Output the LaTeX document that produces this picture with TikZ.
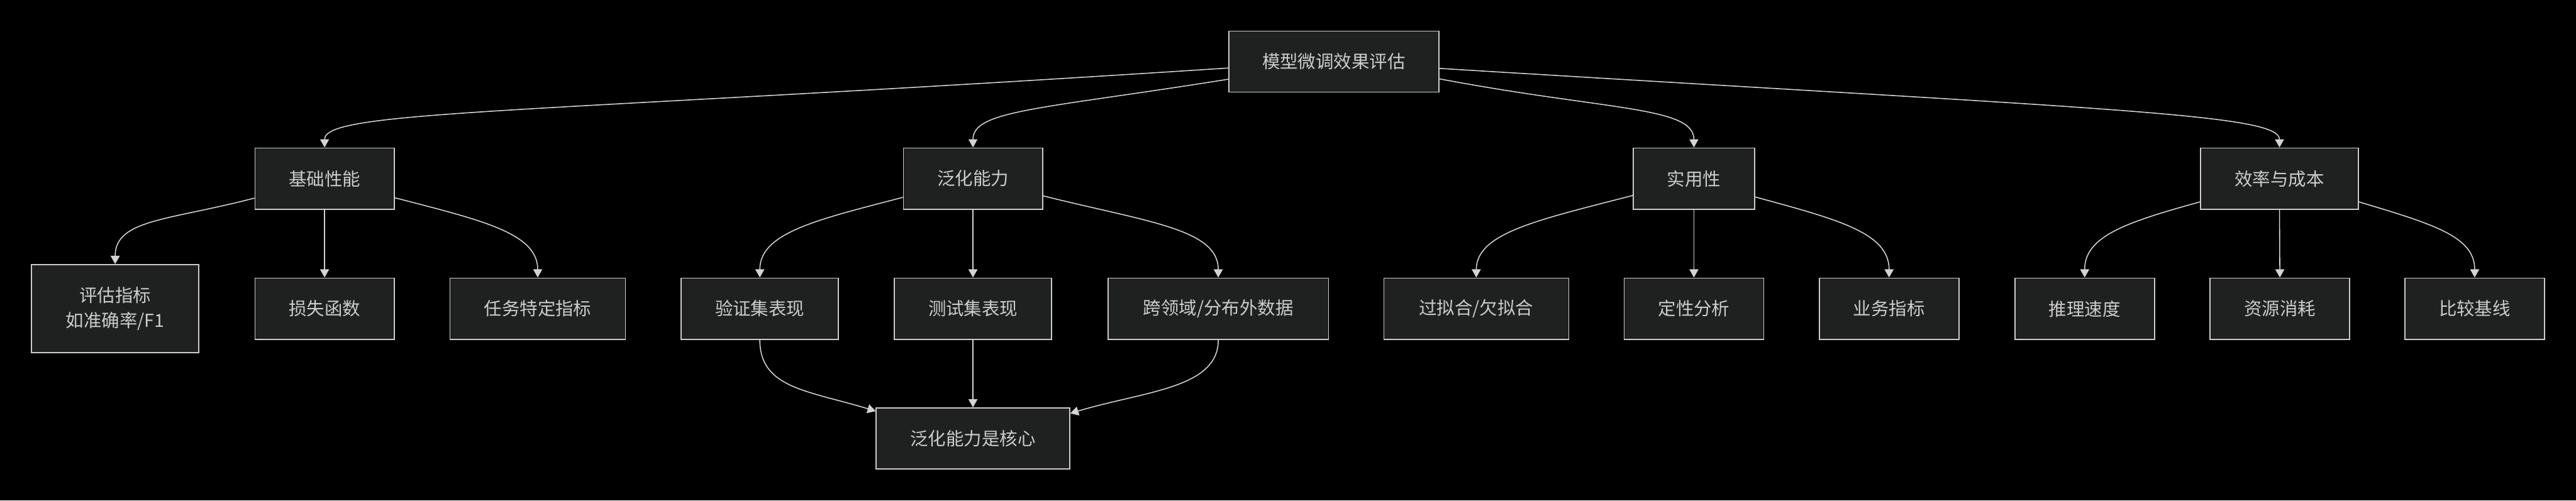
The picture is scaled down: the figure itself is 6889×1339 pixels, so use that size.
\documentclass[tikz,border=0pt]{standalone}
\usepackage{fontspec}
\setmainfont{Noto Sans CJK SC}
\usetikzlibrary{arrows.meta}
\definecolor{bgblack}{HTML}{000000}
\definecolor{boxfill}{HTML}{1F2020}
\definecolor{boxline}{HTML}{CCCCCC}
\definecolor{txtgray}{HTML}{CCCCCC}
\definecolor{wire}{HTML}{D3D3D3}
\begin{document}
\begin{tikzpicture}[x=0.01cm, y=-0.01cm]
	\tikzset{
		box/.style={draw=boxline, fill=boxfill, line width=0.8pt, text=txtgray, inner sep=0pt,
			minimum height=1.64cm, font=\fontsize{13.6pt}{19pt}\selectfont},
		link/.style={draw=wire, line width=0.75pt, -{Triangle[length=0.22cm, width=0.24cm]}}
	}
	\fill[bgblack] (0,0) rectangle (6889,1339);
	\useasboundingbox (0,0) rectangle (6889,1339);
	% root
	\node[box, minimum width=5.62cm, minimum height=1.63cm] (root) at (3567,165) {模型微调效果评估};
	% first level
	\foreach \name/\x/\w/\txt in {base/868/3.72/基础性能, gen/2602/3.72/泛化能力, prac/4530/3.25/实用性, eff/6096/4.21/效率与成本} {
			\node[box, minimum width=\w cm] (\name) at (\x,478) {\txt};
		}
	% second level
	\node[box, minimum width=4.47cm, minimum height=2.36cm, align=center] (metric) at (308,826) {评估指标\\如准确率/F1};
	\foreach \name/\x/\w/\txt in {loss/868/3.72/损失函数, task/1438/4.69/任务特定指标, val/2032/4.20/验证集表现,
			test/2602/4.21/测试集表现, ood/3258/5.89/{跨领域/分布外数据}, over/3948/4.94/{过拟合/欠拟合},
			qual/4530/3.73/定性分析, biz/5052/3.73/业务指标, speed/5575/3.73/推理速度,
			res/6097/3.73/资源消耗, cmp/6618/3.73/比较基线} {
			\node[box, minimum width=\w cm] (\name) at (\x,826) {\txt};
		}
	\node[box, minimum width=5.17cm, minimum height=1.63cm] (core) at (2602,1173) {泛化能力是核心};
	% root links
	\draw[link] ([yshift=-0.17cm]root.west) .. controls +(-1890,123) and +(0,-100) .. (base.north);
	\draw[link] ([yshift=-0.47cm]root.west) .. controls +(-500,80) and +(0,-100) .. (gen.north);
	\draw[link] ([yshift=-0.46cm]root.east) .. controls +(450,85) and +(0,-110) .. (prac.north);
	\draw[link] ([yshift=-0.18cm]root.east) .. controls +(1800,110) and +(0,-90) .. (eff.north);
	% straight links
	\foreach \src/\dst in {base/loss, gen/test, prac/qual, eff/res, test/core} {
			\draw[link] (\src.south) -- (\dst.north);
		}
	% side links
	\draw[link] ([yshift=-0.52cm]base.west) .. controls +(-230,60) and +(0,-120) .. (metric.north);
	\draw[link] ([yshift=-0.51cm]base.east) .. controls +(230,60) and +(0,-120) .. (task.north);
	\draw[link] ([yshift=-0.50cm]gen.west) .. controls +(-230,60) and +(0,-120) .. (val.north);
	\draw[link] ([yshift=-0.46cm]gen.east) .. controls +(280,70) and +(0,-130) .. (ood.north);
	\draw[link] ([yshift=-0.45cm]prac.west) .. controls +(-250,65) and +(0,-120) .. (over.north);
	\draw[link] ([yshift=-0.49cm]prac.east) .. controls +(220,60) and +(0,-120) .. (biz.north);
	\draw[link] ([yshift=-0.62cm]eff.west) .. controls +(-200,55) and +(0,-110) .. (speed.north);
	\draw[link] ([yshift=-0.62cm]eff.east) .. controls +(200,60) and +(0,-110) .. (cmp.north);
	% into the core
	\draw[link] (val.south) .. controls +(0,130) and +(-180,-55) .. ([yshift=-0.1cm]core.north west);
	\draw[link] (ood.south) .. controls +(0,130) and +(200,-60) .. ([yshift=-0.16cm]core.north east);
\end{tikzpicture}
\end{document}
